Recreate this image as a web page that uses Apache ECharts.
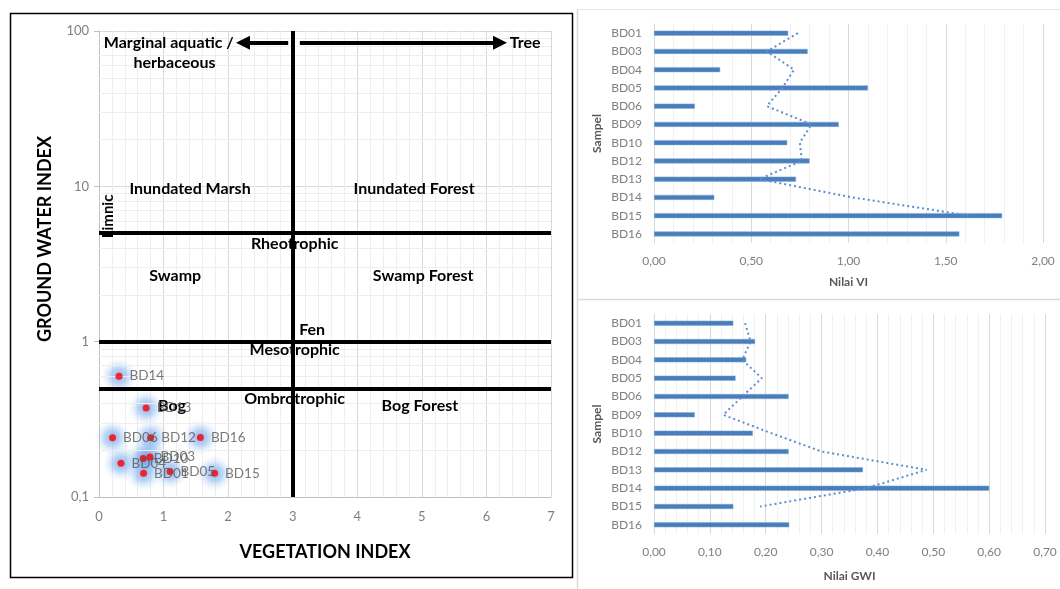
<!DOCTYPE html>
<html>
<head>
<meta charset="utf-8">
<script src="https://cdn.jsdelivr.net/npm/echarts@6/dist/echarts.min.js"></script>
<style>
  html, body { margin: 0; padding: 0; background: #fff; }
  #chart { width: 1060px; height: 589px; }
</style>
</head>
<body>
<div id="chart"></div>
<script>
// ---------------- DATA ----------------
const categories = ['BD01','BD03','BD04','BD05','BD06','BD09','BD10','BD12','BD13','BD14','BD15','BD16'];
const viValues   = [0.69, 0.79, 0.34, 1.10, 0.21, 0.95, 0.685, 0.80, 0.73, 0.31, 1.79, 1.57];
const gwiValues  = [0.142, 0.181, 0.165, 0.146, 0.241, 0.073, 0.177, 0.241, 0.374, 0.600, 0.142, 0.242];
// dotted trend lines (no value drawn at BD16)
const viTrend    = [0.74, 0.58, 0.72, 0.66, 0.58, 0.81, 0.75, 0.76, 0.54, 1.02, 1.62, null];
const gwiTrend   = [0.163, 0.173, 0.158, 0.193, 0.158, 0.124, 0.21, 0.30, 0.488, 0.38, 0.19, null];

// scatter axes
const vegTicks = [0, 1, 2, 3, 4, 5, 6, 7];
const gwiTicks = [0.1, 1, 10, 100];
const gwiMinorGrid = [0.2,0.3,0.4,0.5,0.6,0.7,0.8,0.9, 2,3,4,5,6,7,8,9, 20,30,40,50,60,70,80,90];

// classification boundaries
const vegBoundary = 3;
const gwiBoundaries = [5, 1, 0.5];

// zone annotations [VI, GWI, text]
const zoneLabels = [
  [1.08, 84, 'Marginal aquatic /'],
  [1.17, 62, 'herbaceous'],
  [6.60, 84, 'Tree'],
  [1.41, 9.7, 'Inundated Marsh'],
  [4.88, 9.7, 'Inundated Forest'],
  [3.03, 4.29, 'Rheotrophic'],
  [1.18, 2.67, 'Swamp'],
  [5.02, 2.67, 'Swamp Forest'],
  [3.30, 1.195, 'Fen'],
  [3.03, 0.888, 'Mesotrophic'],
  [3.03, 0.429, 'Ombrotrophic'],
  [4.97, 0.386, 'Bog Forest'],
  [1.13, 0.386, 'Bog']
];
const limnicLabel = [0.14, 6.4, 'Limnic'];
const arrowLeft  = [[2.93, 84], [2.23, 84]];
const arrowRight = [[3.11, 84], [6.21, 84]];

// ---------------- CHART ----------------
const FONT = 'Lato, "Liberation Sans", sans-serif';
const comma = (d) => (v) => v.toFixed(d).replace('.', ',');

const points = [];
categories.forEach((c, i) => {
  if (gwiValues[i] >= 0.1) points.push({ name: c, value: [viValues[i], gwiValues[i]] });
});

const chart = echarts.init(document.getElementById('chart'), null, { renderer: 'canvas' });

const barAxisCommon = {
  type: 'value',
  axisLine: { show: false },
  axisTick: { show: false },
  axisLabel: { color: '#7f7f7f', fontSize: 12, fontFamily: FONT, margin: 12 },
  splitLine: { show: true, lineStyle: { color: '#d9d9d9', width: 1 } },
  minorTick: { show: false, splitNumber: 5 },
  minorSplitLine: { show: true, lineStyle: { color: '#f0f0f0', width: 1 } },
  nameLocation: 'middle',
  nameTextStyle: { color: '#595959', fontSize: 12, fontWeight: 'bold', fontFamily: FONT }
};
const catAxisCommon = {
  type: 'category',
  data: categories,
  inverse: true,
  axisLine: { show: true, lineStyle: { color: '#d9d9d9' } },
  axisTick: { show: false },
  axisLabel: { color: '#7f7f7f', fontSize: 12, fontFamily: FONT, margin: 12 },
  name: 'Sampel',
  nameLocation: 'middle',
  nameGap: 51,
  nameTextStyle: { color: '#595959', fontSize: 12, fontWeight: 'bold', fontFamily: FONT }
};

const option = {
  backgroundColor: '#ffffff',
  animation: false,
  grid: [
    { left: 99, top: 31, width: 452, height: 466 },
    { left: 654, top: 24, width: 389, height: 219 },
    { left: 654, top: 314, width: 391, height: 220 }
  ],
  xAxis: [
    {
      gridIndex: 0, type: 'value', min: vegTicks[0], max: vegTicks[vegTicks.length - 1], interval: 1,
      axisLine: { show: true, lineStyle: { color: '#bfbfbf' } },
      axisTick: { show: false },
      axisLabel: { color: '#7f7f7f', fontSize: 13, fontFamily: FONT, margin: 13 },
      splitLine: { show: true, lineStyle: { color: '#d9d9d9' } },
      minorTick: { show: false, splitNumber: 5 },
      minorSplitLine: { show: true, lineStyle: { color: '#eeeeee' } },
      name: 'VEGETATION INDEX', nameLocation: 'middle', nameGap: 46,
      nameTextStyle: { color: '#000', fontSize: 18, fontWeight: 'bold', fontFamily: FONT }
    },
    Object.assign({}, barAxisCommon, {
      gridIndex: 1, min: 0, max: 2, interval: 0.5,
      axisLabel: Object.assign({}, barAxisCommon.axisLabel, { formatter: comma(2) }),
      name: 'Nilai VI', nameGap: 33
    }),
    Object.assign({}, barAxisCommon, {
      gridIndex: 2, min: 0, max: 0.7, interval: 0.1,
      axisLabel: Object.assign({}, barAxisCommon.axisLabel, { formatter: comma(2) }),
      name: 'Nilai GWI', nameGap: 36
    })
  ],
  yAxis: [
    {
      gridIndex: 0, type: 'log', logBase: 10, min: gwiTicks[0], max: gwiTicks[gwiTicks.length - 1],
      axisLine: { show: true, lineStyle: { color: '#bfbfbf' } },
      axisTick: { show: true, length: 5, lineStyle: { color: '#bfbfbf' } },
      axisLabel: { color: '#7f7f7f', fontSize: 13, fontFamily: FONT, margin: 10,
        formatter: (v) => String(+v.toPrecision(3)).replace('.', ',') },
      splitLine: { show: true, lineStyle: { color: '#d9d9d9' } }
    },
    Object.assign({}, catAxisCommon, { gridIndex: 1 }),
    Object.assign({}, catAxisCommon, { gridIndex: 2 })
  ],
  graphic: [
    { type: 'rect', shape: { x: 10.5, y: 13.5, width: 562, height: 564 },
      style: { fill: 'none', stroke: '#000', lineWidth: 1.5 }, z: 100 },
    { type: 'line', shape: { x1: 577.5, y1: 10, x2: 577.5, y2: 589 },
      style: { stroke: '#d9d9d9', lineWidth: 1.5 } },
    { type: 'line', shape: { x1: 577, y1: 9.5, x2: 1060, y2: 9.5 },
      style: { stroke: '#e6e6e6', lineWidth: 1 } },
    { type: 'line', shape: { x1: 578, y1: 299.5, x2: 1060, y2: 299.5 },
      style: { stroke: '#d9d9d9', lineWidth: 1.5 } },
    { type: 'text', x: 45, y: 239, rotation: Math.PI / 2,
      style: { text: 'GROUND WATER INDEX', fill: '#000', font: 'bold 18px ' + FONT,
               align: 'center', verticalAlign: 'middle' } }
  ],
  series: [
    // minor log gridlines
    {
      type: 'scatter', xAxisIndex: 0, yAxisIndex: 0, data: [], silent: true, z: 1,
      markLine: {
        silent: true, symbol: 'none', animation: false,
        label: { show: false },
        lineStyle: { color: '#eeeeee', width: 1, type: 'solid' },
        data: gwiMinorGrid.map((v) => ({ yAxis: v }))
      }
    },
    // boundaries and arrows
    {
      type: 'scatter', xAxisIndex: 0, yAxisIndex: 0, data: [], silent: true, z: 3,
      markLine: {
        silent: true, symbol: 'none', animation: false,
        label: { show: false },
        lineStyle: { color: '#000', width: 4, type: 'solid' },
        data: [{ xAxis: vegBoundary }].concat(gwiBoundaries.map((v) => ({ yAxis: v }))).concat([
          [{ coord: arrowLeft[0], symbol: 'none' }, { coord: arrowLeft[1], symbol: 'triangle', symbolSize: 14 }],
          [{ coord: arrowRight[0], symbol: 'none' }, { coord: arrowRight[1], symbol: 'triangle', symbolSize: 14 }]
        ])
      }
    },
    // glow
    {
      type: 'scatter', xAxisIndex: 0, yAxisIndex: 0, data: points, silent: true, z: 4,
      symbolSize: 36,
      itemStyle: {
        color: { type: 'radial', x: 0.5, y: 0.5, r: 0.5, colorStops: [
          { offset: 0, color: 'rgba(80,140,225,0.85)' },
          { offset: 0.45, color: 'rgba(110,165,235,0.55)' },
          { offset: 0.75, color: 'rgba(140,185,240,0.2)' },
          { offset: 1, color: 'rgba(160,200,245,0)' }
        ] }
      }
    },
    // red points
    {
      type: 'scatter', xAxisIndex: 0, yAxisIndex: 0, data: points, z: 5,
      symbolSize: 7,
      itemStyle: { color: '#ff0000' },
      label: { show: true, position: 'right', distance: 7, formatter: '{b}',
               color: '#595959', fontSize: 13.5, fontFamily: FONT }
    },
    // zone labels
    {
      type: 'scatter', xAxisIndex: 0, yAxisIndex: 0, data: [], silent: true, z: 6,
      markPoint: {
        silent: true, animation: false,
        symbol: 'circle', symbolSize: 1, itemStyle: { color: 'rgba(0,0,0,0)' },
        label: { show: true, position: 'inside', color: '#000', fontWeight: 'bold',
                 fontSize: 16, fontFamily: FONT },
        data: zoneLabels.map((a) => ({ coord: [a[0], a[1]], value: a[2], label: { formatter: a[2] } }))
          .concat([{ coord: [limnicLabel[0], limnicLabel[1]], value: limnicLabel[2],
                     label: { formatter: limnicLabel[2], rotate: 90, fontSize: 15 } }])
      }
    },
    // VI bars
    {
      type: 'bar', xAxisIndex: 1, yAxisIndex: 1, data: viValues, barWidth: 5,
      itemStyle: { color: '#4a7ebb', borderColor: '#7fa6d6', borderWidth: 0.5 }, z: 2
    },
    {
      type: 'line', xAxisIndex: 1, yAxisIndex: 1,
      data: categories.map((c, i) => [viTrend[i], c]),
      symbol: 'none', connectNulls: false,
      lineStyle: { color: '#5b8fd0', width: 2, type: [2, 3] }, z: 3
    },
    // GWI bars
    {
      type: 'bar', xAxisIndex: 2, yAxisIndex: 2, data: gwiValues, barWidth: 5,
      itemStyle: { color: '#4a7ebb', borderColor: '#7fa6d6', borderWidth: 0.5 }, z: 2
    },
    {
      type: 'line', xAxisIndex: 2, yAxisIndex: 2,
      data: categories.map((c, i) => [gwiTrend[i], c]),
      symbol: 'none', connectNulls: false,
      lineStyle: { color: '#5b8fd0', width: 2, type: [2, 3] }, z: 3
    }
  ]
};

chart.setOption(option);
</script>
</body>
</html>
